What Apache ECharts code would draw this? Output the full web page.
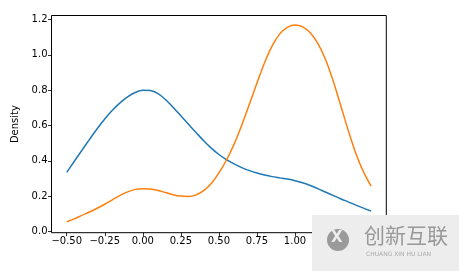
<!DOCTYPE html>
<html>
<head>
<meta charset="utf-8">
<script src="https://cdn.jsdelivr.net/npm/echarts@6/dist/echarts.min.js"></script>
<style>
html,body{margin:0;padding:0;background:#fff;}
#chart{width:459px;height:271px;}
</style>
</head>
<body>
<div id="chart"></div>
<script>
const xs = [-0.5, -0.45, -0.4, -0.35, -0.3, -0.25, -0.2, -0.15, -0.1, -0.05, 0.0, 0.05, 0.1, 0.15, 0.2, 0.25, 0.3, 0.35, 0.4, 0.45, 0.5, 0.55, 0.6, 0.65, 0.7, 0.75, 0.8, 0.85, 0.9, 0.95, 1.0, 1.05, 1.1, 1.15, 1.2, 1.25, 1.3, 1.35, 1.4, 1.45, 1.5];
const blue = [0.335, 0.398, 0.46, 0.522, 0.582, 0.637, 0.686, 0.728, 0.762, 0.787, 0.8, 0.798, 0.78, 0.746, 0.702, 0.655, 0.607, 0.56, 0.514, 0.472, 0.436, 0.407, 0.383, 0.362, 0.345, 0.331, 0.32, 0.311, 0.304, 0.297, 0.288, 0.276, 0.261, 0.243, 0.224, 0.205, 0.186, 0.168, 0.15, 0.133, 0.117];
const orange = [0.056, 0.072, 0.092, 0.111, 0.132, 0.155, 0.18, 0.205, 0.225, 0.239, 0.243, 0.241, 0.233, 0.221, 0.209, 0.201, 0.199, 0.208, 0.232, 0.272, 0.332, 0.405, 0.495, 0.602, 0.72, 0.84, 0.955, 1.05, 1.118, 1.155, 1.168, 1.158, 1.125, 1.065, 0.975, 0.855, 0.715, 0.572, 0.442, 0.338, 0.258];
const xTicks = [-0.5, -0.25, 0, 0.25, 0.5, 0.75, 1.0, 1.25, 1.5];
const yTicks = [0, 0.2, 0.4, 0.6, 0.8, 1.0, 1.2];
const yName = 'Density';

const fmtMinus = (s) => s.replace('-', '\u2212');
const font = 'DejaVu Sans';

const chart = echarts.init(document.getElementById('chart'), null, {renderer: 'canvas'});
chart.setOption({
  animation: false,
  backgroundColor: '#fff',
  grid: {left: 51.5, right: 72.7, top: 15.5, bottom: 38.3, show: true, borderColor: '#000', borderWidth: 1, backgroundColor: 'transparent'},
  xAxis: {
    type: 'value', min: -0.6, max: 1.6,
    axisLine: {show: false, onZero: false},
    splitLine: {show: false},
    axisTick: {show: true, inside: false, length: 3.5, lineStyle: {color: '#000', width: 0.8}, customValues: xTicks},
    axisLabel: {color: '#000', fontSize: 10, fontFamily: font, margin: 4, customValues: xTicks,
      formatter: (v) => fmtMinus(v.toFixed(2))}
  },
  yAxis: {
    type: 'value', min: -0.006, max: 1.222,
    name: yName, nameLocation: 'middle', nameGap: 25, nameRotate: 90,
    nameTextStyle: {color: '#000', fontSize: 10, fontFamily: font},
    axisLine: {show: false, onZero: false},
    splitLine: {show: false},
    axisTick: {show: true, inside: false, length: 3.5, lineStyle: {color: '#000', width: 0.8}, customValues: yTicks},
    axisLabel: {color: '#000', fontSize: 10, fontFamily: font, margin: 4, customValues: yTicks,
      formatter: (v) => v.toFixed(1)}
  },
  series: [
    {type: 'line', data: xs.map((x, i) => [x, blue[i]]), smooth: 0.3, showSymbol: false,
      lineStyle: {color: '#1f77b4', width: 1.5}, itemStyle: {color: '#1f77b4'}},
    {type: 'line', data: xs.map((x, i) => [x, orange[i]]), smooth: 0.3, showSymbol: false,
      lineStyle: {color: '#ff7f0e', width: 1.5}, itemStyle: {color: '#ff7f0e'}}
  ],
  graphic: [
    {type: 'rect', z: 100, shape: {x: 312, y: 215, width: 147, height: 56}, style: {fill: '#ededed'}},
    {type: 'circle', z: 101, shape: {cx: 338, cy: 240, r: 11}, style: {fill: '#9a9a9a'}},
    {type: 'text', z: 102, left: 331, top: 231, style: {text: 'X', fill: '#ededed', font: 'bold 15px "DejaVu Sans"'}},
    {type: 'text', z: 101, left: 364, top: 225, style: {text: '创新互联', fill: '#999', font: '21px "Noto Sans CJK SC"'}},
    {type: 'text', z: 101, left: 366, top: 251, style: {text: 'CHUANG XIN HU LIAN', fill: '#aaa', font: '6px "DejaVu Sans"'}}
  ]
});
</script>
</body>
</html>
